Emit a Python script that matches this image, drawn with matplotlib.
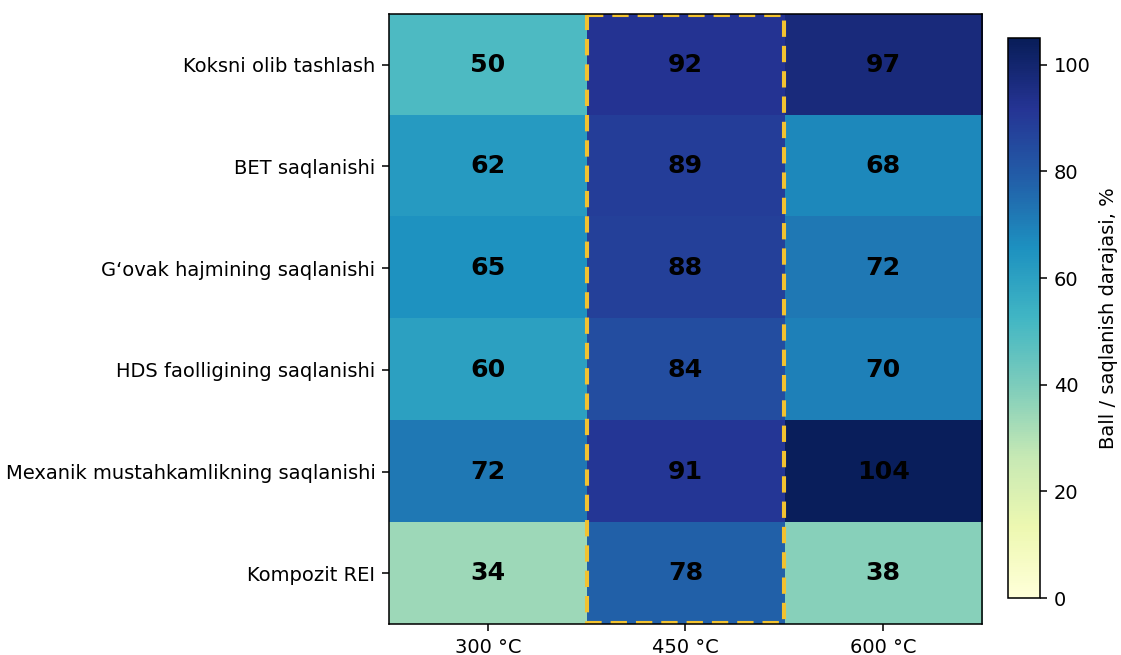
import numpy as np
import matplotlib.pyplot as plt
from matplotlib.patches import Rectangle

# retention / removal scores per regeneration temperature
metrics = ['Koksni olib tashlash',
           'BET saqlanishi',
           'G\u2018ovak hajmining saqlanishi',
           'HDS faolligining saqlanishi',
           'Mexanik mustahkamlikning saqlanishi',
           'Kompozit REI']
temps = ['300 °C', '450 °C', '600 °C']
t300 = [50, 62, 65, 60, 72, 34]
t450 = [92, 89, 88, 84, 91, 78]
t600 = [97, 68, 72, 70, 104, 38]

scores = np.array([t300, t450, t600]).T

fig = plt.figure(figsize=(1121 / 140, 655 / 140), dpi=140)
ax = fig.add_axes([0.347, 0.047, 0.529, 0.932])
cax = fig.add_axes([0.899, 0.087, 0.029, 0.855])

im = ax.imshow(scores, cmap='YlGnBu', vmin=0, vmax=105, aspect='auto')

for i in range(scores.shape[0]):
    for j in range(scores.shape[1]):
        ax.text(j, i, str(scores[i, j]), ha='center', va='center',
                fontsize=13, fontweight='bold', color='black')

# highlight the 450 °C column
ax.add_patch(Rectangle((0.5, -0.49), 1, 5.98, fill=False,
                       edgecolor='#f2c230', linewidth=2.1,
                       linestyle=(0, (4, 2.2))))

ax.set_xticks(range(len(temps)))
ax.set_xticklabels(temps)
ax.set_yticks(range(len(metrics)))
ax.set_yticklabels(metrics)

cb = fig.colorbar(im, cax=cax)
cb.set_ticks([0, 20, 40, 60, 80, 100])
cb.set_label('Ball / saqlanish darajasi, %')

fig.savefig('out.png', dpi=140)
